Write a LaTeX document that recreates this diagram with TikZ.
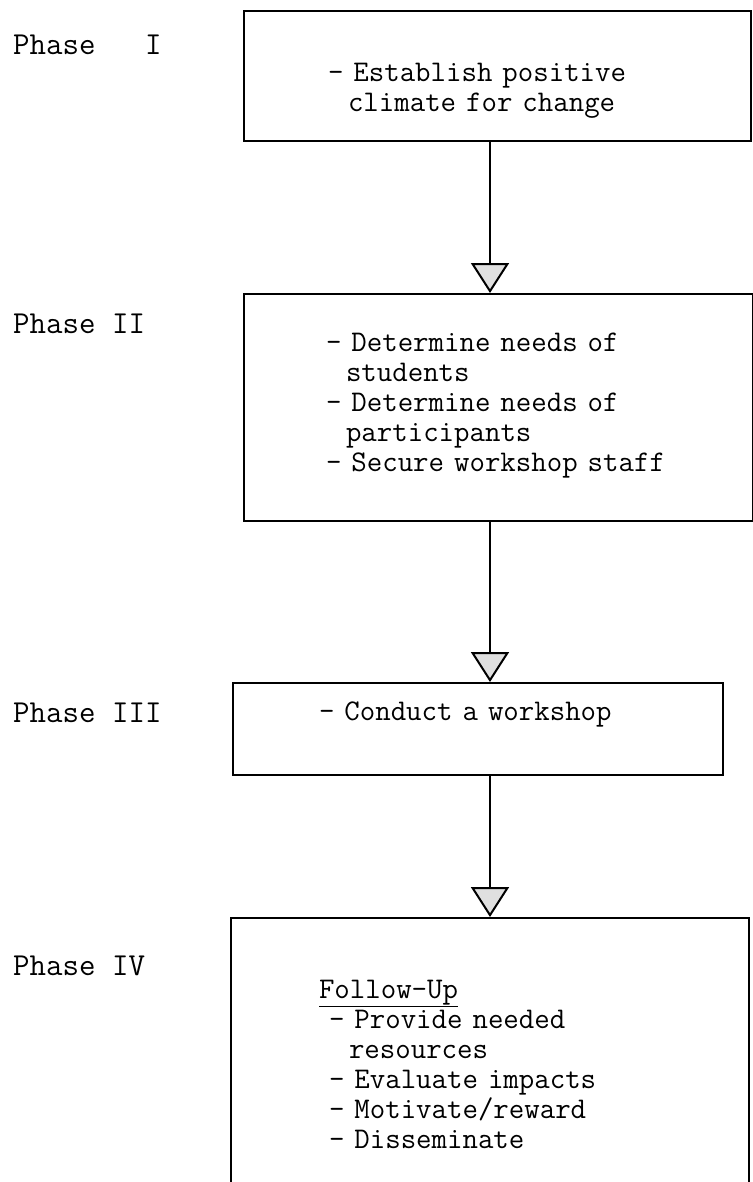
\documentclass[tikz,border=0pt]{standalone}
\usetikzlibrary{arrows.meta, positioning}

\begin{document}
\begin{tikzpicture}[x=1pt, y=-1pt,
    phasebox/.style={draw, line width=2pt, anchor=north west, align=left, inner ysep=0pt,
      font=\ttfamily\fontsize{30}{30}\selectfont},
    phaselabel/.style={anchor=base west, inner sep=0pt, font=\ttfamily\fontsize{32}{34}\selectfont},
    flow/.style={line width=2.5pt, -{Triangle[width=38pt, length=30pt, fill=black!12, line width=2pt]}}]
  \useasboundingbox (0,0) rectangle (752,1182);

  % phase boxes
  \node[phasebox, text width=339pt, inner xsep=84pt, text height=71pt, text depth=59pt] (box1) at (243,10)
    {- Establish positive\\~~climate for change};
  \node[phasebox, text width=345pt, inner xsep=82pt, text height=57pt, text depth=170pt] (box2) at (243,293)
    {- Determine needs of\\~~students\\- Determine needs of\\~~participants\\- Secure~workshop~staff};
  \node[phasebox, text width=318pt, inner xsep=86pt, text height=37pt, text depth=55pt] (box3) at (232,682)
    {- Conduct a workshop};
  \node[phasebox, text width=342pt, inner xsep=88pt, text height=80pt, text depth=185pt] (box4) at (230,917)
    {\underline{Follow-Up}\\~- Provide needed\\~~~resources\\~- Evaluate impacts\\~- Motivate/reward\\~- Disseminate};

  % labels on the left
  \node[phaselabel] (ph1) at (13,55) {Phase~~~I};
  \node[phaselabel] (ph2) at (13,333) {Phase II};
  \node[phaselabel] (ph3) at (13,722) {Phase III};
  \node[phaselabel] (ph4) at (13,975) {Phase IV};

  % arrows
  \coordinate (spine) at (490,0);
  \draw[flow] (box1.south -| spine) -- (box2.north -| spine);
  \draw[flow] (box2.south -| spine) -- (box3.north -| spine);
  \draw[flow] (box3.south -| spine) -- (box4.north -| spine);
\end{tikzpicture}
\end{document}
